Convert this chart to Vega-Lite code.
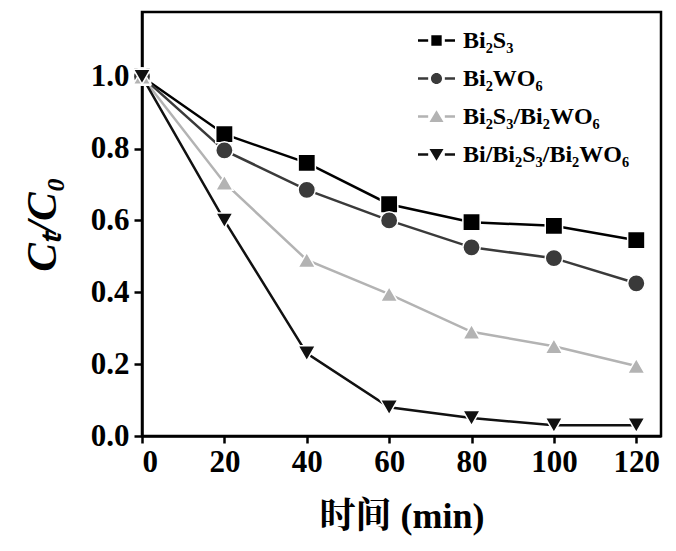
{
  "$schema": "https://vega.github.io/schema/vega-lite/v6.json",
  "width": 519,
  "height": 424,
  "autosize": "none",
  "padding": {"left": 142, "top": 12, "right": 15, "bottom": 115},
  "background": "white",
  "config": {
    "view": {"stroke": "black", "strokeWidth": 2.5},
    "font": "Liberation Serif"
  },
  "data": {
    "values": [
      {"series": "Bi2S3", "t": 0, "v": 1.0},
      {"series": "Bi2S3", "t": 20, "v": 0.84},
      {"series": "Bi2S3", "t": 40, "v": 0.76},
      {"series": "Bi2S3", "t": 60, "v": 0.645},
      {"series": "Bi2S3", "t": 80, "v": 0.595},
      {"series": "Bi2S3", "t": 100, "v": 0.585},
      {"series": "Bi2S3", "t": 120, "v": 0.545},
      {"series": "Bi2WO6", "t": 0, "v": 1.0},
      {"series": "Bi2WO6", "t": 20, "v": 0.795},
      {"series": "Bi2WO6", "t": 40, "v": 0.685},
      {"series": "Bi2WO6", "t": 60, "v": 0.6},
      {"series": "Bi2WO6", "t": 80, "v": 0.525},
      {"series": "Bi2WO6", "t": 100, "v": 0.495},
      {"series": "Bi2WO6", "t": 120, "v": 0.425},
      {"series": "Bi2S3/Bi2WO6", "t": 0, "v": 1.0},
      {"series": "Bi2S3/Bi2WO6", "t": 20, "v": 0.705},
      {"series": "Bi2S3/Bi2WO6", "t": 40, "v": 0.49},
      {"series": "Bi2S3/Bi2WO6", "t": 60, "v": 0.395},
      {"series": "Bi2S3/Bi2WO6", "t": 80, "v": 0.29},
      {"series": "Bi2S3/Bi2WO6", "t": 100, "v": 0.25},
      {"series": "Bi2S3/Bi2WO6", "t": 120, "v": 0.195},
      {"series": "Bi/Bi2S3/Bi2WO6", "t": 0, "v": 1.0},
      {"series": "Bi/Bi2S3/Bi2WO6", "t": 20, "v": 0.6},
      {"series": "Bi/Bi2S3/Bi2WO6", "t": 40, "v": 0.23},
      {"series": "Bi/Bi2S3/Bi2WO6", "t": 60, "v": 0.08},
      {"series": "Bi/Bi2S3/Bi2WO6", "t": 80, "v": 0.05},
      {"series": "Bi/Bi2S3/Bi2WO6", "t": 100, "v": 0.03},
      {"series": "Bi/Bi2S3/Bi2WO6", "t": 120, "v": 0.03}
    ]
  },
  "encoding": {
    "x": {
      "field": "t", "type": "quantitative",
      "scale": {"domain": [0, 126], "nice": false, "zero": false},
      "axis": {
        "title": "时间 (min)",
        "values": [0, 20, 40, 60, 80, 100, 120],
        "grid": false,
        "domainColor": "black", "domainWidth": 2.5,
        "tickColor": "black", "tickWidth": 2.5, "tickSize": 7,
        "labelFont": "Liberation Serif", "labelFontSize": 31, "labelFontWeight": "bold", "labelColor": "black",
        "labelPadding": 4,
        "titleFont": "Liberation Serif, Noto Serif CJK SC, Noto Sans CJK SC", "titleFontSize": 36, "titleFontWeight": "bold", "titleColor": "black",
        "titlePadding": 22
      }
    },
    "y": {
      "field": "v", "type": "quantitative",
      "scale": {"domain": [0, 1.18], "nice": false},
      "axis": {
        "title": "Cₜ/C₀",
        "values": [0, 0.2, 0.4, 0.6, 0.8, 1.0],
        "format": ".1f",
        "grid": false,
        "domainColor": "black", "domainWidth": 2.5,
        "tickColor": "black", "tickWidth": 2.5, "tickSize": 8,
        "labelFont": "Liberation Serif", "labelFontSize": 31, "labelFontWeight": "bold", "labelColor": "black",
        "labelPadding": 5,
        "titleFont": "Liberation Serif", "titleFontSize": 43, "titleFontWeight": "bold", "titleFontStyle": "italic", "titleColor": "black",
        "titlePadding": 26
      }
    }
  },
  "layer": [
    {
      "mark": {"type": "line", "strokeWidth": 2.5},
      "encoding": {
        "color": {
          "field": "series", "type": "nominal",
          "scale": {"domain": ["Bi2S3", "Bi2WO6", "Bi2S3/Bi2WO6", "Bi/Bi2S3/Bi2WO6"], "range": ["#000000", "#3a3a3a", "#b3b3b3", "#111111"]},
          "legend": null
        }
      }
    },
    {
      "mark": {"type": "point", "filled": true, "size": 300, "opacity": 1, "stroke": "white", "strokeWidth": 1.5},
      "encoding": {
        "color": {
          "field": "series", "type": "nominal",
          "scale": {"domain": ["Bi2S3", "Bi2WO6", "Bi2S3/Bi2WO6", "Bi/Bi2S3/Bi2WO6"], "range": ["#000000", "#3a3a3a", "#b3b3b3", "#111111"]},
          "legend": null
        },
        "shape": {
          "field": "series", "type": "nominal",
          "scale": {"domain": ["Bi2S3", "Bi2WO6", "Bi2S3/Bi2WO6", "Bi/Bi2S3/Bi2WO6"], "range": ["square", "circle", "triangle-up", "triangle-down"]},
          "legend": null
        }
      }
    },
    {
      "mark": {"type": "point", "filled": true, "opacity": 0},
      "encoding": {
        "color": {
          "field": "series", "type": "nominal",
          "scale": {"domain": ["Bi2S3", "Bi2WO6", "Bi2S3/Bi2WO6", "Bi/Bi2S3/Bi2WO6"], "range": ["#000000", "#3a3a3a", "#b3b3b3", "#111111"]},
          "legend": {
            "title": null,
            "orient": "none",
            "legendX": 276,
            "legendY": 10,
            "symbolSize": 1369,
            "symbolOpacity": 1,
            "symbolStrokeWidth": 0,
            "rowPadding": 7,
            "labelOffset": 8,
            "labelFont": "Liberation Serif",
            "labelFontSize": 24,
            "labelFontWeight": "bold",
            "labelColor": "black",
            "labelLimit": 400,
            "labelExpr": "replace(replace(replace(datum.label, /2/g, '₂'), /3/g, '₃'), /6/g, '₆')"
          }
        },
        "shape": {
          "field": "series", "type": "nominal",
          "scale": {
            "domain": ["Bi2S3", "Bi2WO6", "Bi2S3/Bi2WO6", "Bi/Bi2S3/Bi2WO6"],
            "range": [
              "M-1,-0.07H-0.45V0.07H-1Z M-0.28,-0.28H0.28V0.28H-0.28Z M0.45,-0.07H1V0.07H0.45Z",
              "M-1,-0.07H-0.45V0.07H-1Z M-0.3,0A0.3,0.3 0 1,0 0.3,0A0.3,0.3 0 1,0 -0.3,0Z M0.45,-0.07H1V0.07H0.45Z",
              "M-1,-0.07H-0.45V0.07H-1Z M0,-0.34L0.38,0.3H-0.38Z M0.45,-0.07H1V0.07H0.45Z",
              "M-1,-0.07H-0.45V0.07H-1Z M-0.38,-0.3H0.38L0,0.34Z M0.45,-0.07H1V0.07H0.45Z"
            ]
          },
          "legend": {
            "title": null,
            "orient": "none",
            "legendX": 276,
            "legendY": 10,
            "symbolSize": 1369,
            "symbolOpacity": 1,
            "symbolStrokeWidth": 0,
            "rowPadding": 7,
            "labelOffset": 8,
            "labelFont": "Liberation Serif",
            "labelFontSize": 24,
            "labelFontWeight": "bold",
            "labelColor": "black",
            "labelLimit": 400,
            "labelExpr": "replace(replace(replace(datum.label, /2/g, '₂'), /3/g, '₃'), /6/g, '₆')"
          }
        }
      }
    }
  ],
  "resolve": {"scale": {"shape": "independent", "color": "independent"}}
}
